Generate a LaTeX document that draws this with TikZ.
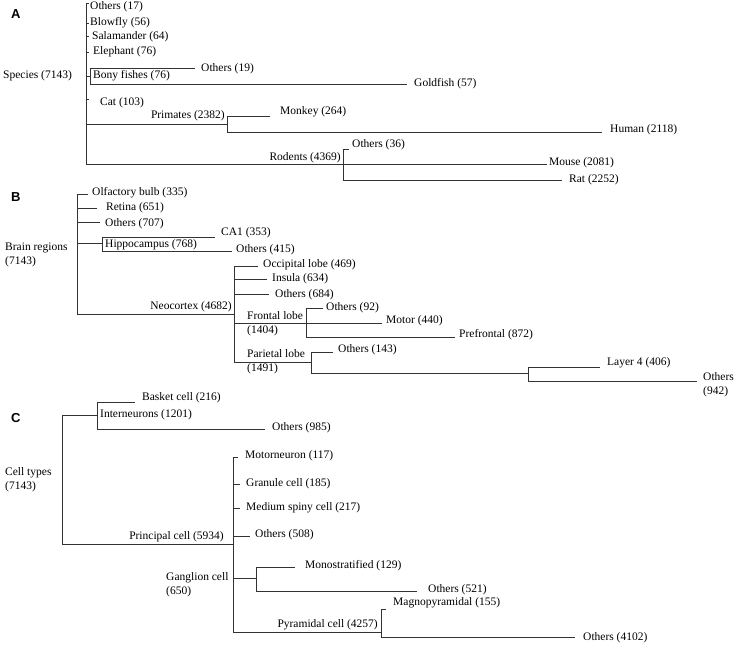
\documentclass[tikz,border=0pt]{standalone}
\usepackage{fontspec}
\setmainfont{Liberation Serif}
\newfontfamily\panelfont{Liberation Sans}
\begin{document}
\begin{tikzpicture}[x=1pt,y=-1pt,
  br/.style={line width=0.8pt,draw=black!80},
  lab/.style={inner sep=0pt,anchor=west,font=\fontsize{11.5}{14}\selectfont,align=left},
  labr/.style={inner sep=0pt,anchor=east,font=\fontsize{11.5}{14}\selectfont},
  panel/.style={inner sep=0pt,anchor=west,font=\panelfont\bfseries\fontsize{13}{15}\selectfont}]
\useasboundingbox[fill=white] (0,0) rectangle (737,650);

% ================= Panel A =================
\node[panel] (pA) at (11,14) {A};
\node[lab] (tSpecies) at (3,76) {Species (7143)};
\coordinate (jA) at (86,76);
\coordinate (eO17) at (89,3);
\coordinate (eBlow) at (89,23);
\coordinate (eSal) at (89,36);
\coordinate (eEle) at (89,52);
\coordinate (jBony) at (90,76);
\coordinate (eCat) at (89,99);
\coordinate (jPrim) at (227,124);
\coordinate (jRod) at (343,164);
\draw[br] (jA) |- (eO17);
\draw[br] (jA) |- (eBlow);
\draw[br] (jA) |- (eSal);
\draw[br] (jA) |- (eEle);
\draw[br] (jA) -- (jBony);
\draw[br] (jA) |- (eCat);
\draw[br] (jA) |- (jPrim);
\draw[br] (jA) |- (jRod);
\node[lab] (tO17) at (90,7) {Others (17)};
\node[lab] (tBlow) at (90,23) {Blowfly (56)};
\node[lab] (tSal) at (92,37) {Salamander (64)};
\node[lab] (tEle) at (93,52) {Elephant (76)};
\node[lab] (tBony) at (93,76) {Bony fishes (76)};
\node[lab] (tCat) at (100,103) {Cat (103)};
% bony fishes
\coordinate (eO19) at (195,68);
\coordinate (eGold) at (407,84);
\draw[br] (jBony) |- (eO19);
\draw[br] (jBony) |- (eGold);
\node[lab] (tO19) at (201,69) {Others (19)};
\node[lab] (tGold) at (414,84) {Goldfish (57)};
% primates
\node[labr] (tPrim) at (225,116) {Primates (2382)};
\coordinate (eMon) at (270,116);
\coordinate (eHum) at (602,132);
\draw[br] (jPrim) |- (eMon);
\draw[br] (jPrim) |- (eHum);
\node[lab] (tMon) at (280,112) {Monkey (264)};
\node[lab] (tHum) at (610,130) {Human (2118)};
% rodents
\node[labr] (tRod) at (341,158) {Rodents (4369)};
\coordinate (eO36) at (349,149);
\coordinate (eMou) at (547,164);
\coordinate (eRat) at (562,180);
\draw[br] (jRod) |- (eO36);
\draw[br] (jRod) -- (eMou);
\draw[br] (jRod) |- (eRat);
\node[lab] (tO36) at (352,145) {Others (36)};
\node[lab] (tMou) at (549,163) {Mouse (2081)};
\node[lab] (tRat) at (569,180) {Rat (2252)};

% ================= Panel B =================
\node[panel] (pB) at (11,197) {B};
\node[lab] (tBrain) at (5,255) {Brain regions\\(7143)};
\coordinate (jB) at (77,255);
\coordinate (eOlf) at (88,194);
\coordinate (eRet) at (97,208);
\coordinate (eO707) at (100,222);
\coordinate (jHip) at (102,243);
\coordinate (jNeo) at (234,314);
\draw[br] (jB) |- (eOlf);
\draw[br] (jB) |- (eRet);
\draw[br] (jB) |- (eO707);
\draw[br] (jB) |- (jHip);
\draw[br] (jB) |- (jNeo);
\node[lab] (tOlf) at (92,193) {Olfactory bulb (335)};
\node[lab] (tRet) at (106,208) {Retina (651)};
\node[lab] (tO707) at (105,224) {Others (707)};
\node[lab] (tHip) at (105,245) {Hippocampus (768)};
% hippocampus
\coordinate (eCA1) at (215,237);
\coordinate (eO415) at (232,251);
\draw[br] (jHip) |- (eCA1);
\draw[br] (jHip) |- (eO415);
\node[lab] (tCA1) at (221,233) {CA1 (353)};
\node[lab] (tO415) at (236,250) {Others (415)};
% neocortex
\node[labr] (tNeo) at (232,307) {Neocortex (4682)};
\coordinate (eOcc) at (258,266);
\coordinate (eIns) at (267,279);
\coordinate (eO684) at (269,294);
\coordinate (jFro) at (306,323);
\coordinate (jPar) at (311,362);
\draw[br] (jNeo) |- (eOcc);
\draw[br] (jNeo) |- (eIns);
\draw[br] (jNeo) |- (eO684);
\draw[br] (jNeo) |- (jFro);
\draw[br] (jNeo) |- (jPar);
\node[lab] (tOcc) at (263,265) {Occipital lobe (469)};
\node[lab] (tIns) at (272,279) {Insula (634)};
\node[lab] (tO684) at (275,295) {Others (684)};
\node[lab] (tFro) at (247,324) {Frontal lobe\\(1404)};
\node[lab] (tPar) at (247,362) {Parietal lobe\\(1491)};
% frontal
\coordinate (eO92) at (323,308);
\coordinate (eMot) at (382,323);
\coordinate (ePre) at (455,337);
\draw[br] (jFro) |- (eO92);
\draw[br] (jFro) -- (eMot);
\draw[br] (jFro) |- (ePre);
\node[lab] (tO92) at (326,308) {Others (92)};
\node[lab] (tMot) at (386,321) {Motor (440)};
\node[lab] (tPre) at (459,335) {Prefrontal (872)};
% parietal
\coordinate (eO143) at (333,352);
\coordinate (jL4) at (528,373);
\draw[br] (jPar) |- (eO143);
\draw[br] (jPar) |- (jL4);
\node[lab] (tO143) at (338,350) {Others (143)};
\coordinate (eL4) at (600,367);
\coordinate (eO942) at (697,381);
\draw[br] (jL4) |- (eL4);
\draw[br] (jL4) |- (eO942);
\node[lab] (tL4) at (607,363) {Layer 4 (406)};
\node[lab] (tO942) at (703,385) {Others\\(942)};

% ================= Panel C =================
\node[panel] (pC) at (11,418) {C};
\node[lab] (tCell) at (5,480) {Cell types\\(7143)};
\coordinate (jC) at (62,480);
\coordinate (jInt) at (97,415);
\coordinate (jPri) at (233,544);
\draw[br] (jC) |- (jInt);
\draw[br] (jC) |- (jPri);
% interneurons
\coordinate (eBas) at (135,402);
\coordinate (eO985) at (265,429);
\draw[br] (jInt) |- (eBas);
\draw[br] (jInt) |- (eO985);
\node[lab] (tInt) at (100,415) {Interneurons (1201)};
\node[lab] (tBas) at (142,398) {Basket cell (216)};
\node[lab] (tO985) at (272,428) {Others (985)};
% principal
\node[labr] (tPri) at (224,537) {Principal cell (5934)};
\coordinate (eMotn) at (238,457);
\coordinate (eGra) at (240,484);
\coordinate (eMed) at (240,508);
\coordinate (eO508) at (250,536);
\coordinate (jGan) at (256,578);
\coordinate (jPyr) at (381,632);
\draw[br] (jPri) |- (eMotn);
\draw[br] (jPri) |- (eGra);
\draw[br] (jPri) |- (eMed);
\draw[br] (jPri) |- (eO508);
\draw[br] (jPri) |- (jGan);
\draw[br] (jPri) |- (jPyr);
\node[lab] (tMotn) at (245,456) {Motorneuron (117)};
\node[lab] (tGra) at (246,484) {Granule cell (185)};
\node[lab] (tMed) at (246,508) {Medium spiny cell (217)};
\node[lab] (tO508) at (255,535) {Others (508)};
\node[lab] (tGan) at (166,585) {Ganglion cell\\(650)};
% ganglion
\coordinate (eMono) at (295,567);
\coordinate (eO521) at (417,591);
\draw[br] (jGan) |- (eMono);
\draw[br] (jGan) |- (eO521);
\node[lab] (tMono) at (305,566) {Monostratified (129)};
\node[lab] (tO521) at (428,590) {Others (521)};
% pyramidal
\node[labr] (tPyr) at (378,625) {Pyramidal cell (4257)};
\coordinate (eMag) at (386,609);
\coordinate (eO4102) at (575,637);
\draw[br] (jPyr) |- (eMag);
\draw[br] (jPyr) |- (eO4102);
\node[lab] (tMag) at (393,603) {Magnopyramidal (155)};
\node[lab] (tO4102) at (583,638) {Others (4102)};
\end{tikzpicture}
\end{document}
